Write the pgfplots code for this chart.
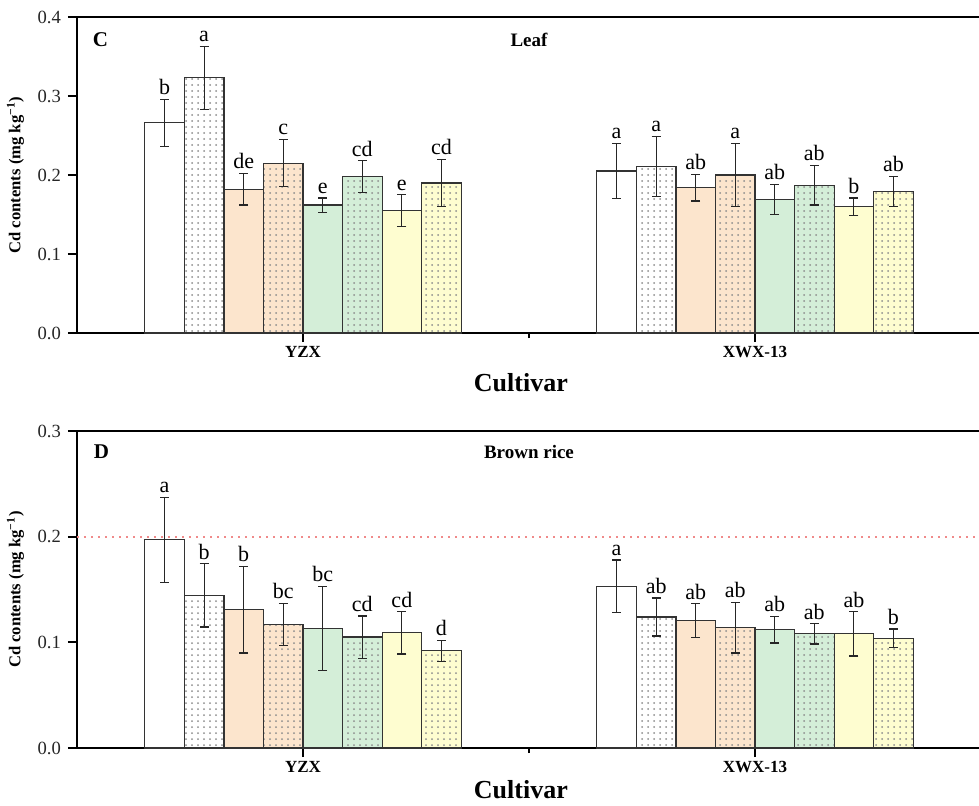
\documentclass[border=0pt]{standalone}
\usepackage{fontspec}
\setmainfont{Liberation Serif}
\usepackage{pgfplots}
\pgfplotsset{compat=1.18}
\usetikzlibrary{patterns}
\definecolor{cor}{HTML}{FCE5CD}
\definecolor{cgr}{HTML}{D4EED8}
\definecolor{cye}{HTML}{FEFDD0}
\definecolor{cred}{HTML}{F08A8A}
\pgfplotsset{
  panel/.style={scale only axis, width=452pt, xmin=0.5, xmax=2.5, ymin=0,
    axis y line*=left, xtick={1,2}, xticklabels={YZX,XWX-13}, minor xtick={1.5},
    xtick pos=bottom, ytick pos=left, tick align=outside,
    major tick length=4.5pt, minor tick length=2.5pt,
    axis line style={line width=1pt, black},
    every tick/.style={black, line width=0.9pt},
    x tick label style={font=\fontsize{8.5}{10}\selectfont\bfseries, yshift=1.5pt},
    y tick label style={font=\fontsize{9.3}{10}\selectfont, black!85},
    yticklabel style={/pgf/number format/.cd, fixed, fixed zerofill, precision=1, assume math mode=true},
    xlabel={Cultivar}, ylabel={Cd contents (mg kg\textsuperscript{−1})},
    xlabel style={font=\fontsize{13}{15}\selectfont\bfseries, at={(axis description cs:0.491,0)}, anchor=center, yshift=-25pt},
    ylabel style={font=\fontsize{8.3}{9}\selectfont\bfseries},
    clip=false},
  bar/.style={ybar, bar width=0.0875, bar shift=0pt, draw=black!80, line width=0.6pt,
    error bars/y dir=both, error bars/y explicit,
    error bars/error bar style={black!85, line width=0.6pt},
    error bars/error mark options={rotate=90, black!85, line width=0.6pt, mark size=2.2pt}},
  dot/.style={postaction={pattern=dots, pattern color=black!45}},
  lab/.style={forget plot, only marks, mark=*, mark size=0pt, mark options={draw=none, fill=none},
    nodes near coords, point meta=explicit symbolic,
    every node near coord/.style={anchor=south, inner sep=2pt, font=\fontsize{11}{12}\selectfont, black}},
}
\begin{document}
\begin{tikzpicture}
\useasboundingbox (0,0) rectangle (489.5pt,402.5pt);
% ---------------- Panel C: Leaf
\begin{axis}[panel, at={(38.5pt,236pt)}, anchor=south west, height=158pt,
  ymax=0.4, ytick={0,0.1,0.2,0.3,0.4}]
\addplot[bar, fill=white] coordinates {(0.69375,0.266) +- (0,0.030) (1.69375,0.205) +- (0,0.035)};
\addplot[bar, fill=white, dot] coordinates {(0.78125,0.323) +- (0,0.040) (1.78125,0.211) +- (0,0.038)};
\addplot[bar, fill=cor] coordinates {(0.86875,0.182) +- (0,0.020) (1.86875,0.184) +- (0,0.017)};
\addplot[bar, fill=cor, dot] coordinates {(0.95625,0.215) +- (0,0.030) (1.95625,0.200) +- (0,0.040)};
\addplot[bar, fill=cgr] coordinates {(1.04375,0.162) +- (0,0.009) (2.04375,0.169) +- (0,0.019)};
\addplot[bar, fill=cgr, dot] coordinates {(1.13125,0.198) +- (0,0.020) (2.13125,0.187) +- (0,0.025)};
\addplot[bar, fill=cye] coordinates {(1.21875,0.155) +- (0,0.020) (2.21875,0.160) +- (0,0.011)};
\addplot[bar, fill=cye, dot] coordinates {(1.30625,0.190) +- (0,0.030) (2.30625,0.179) +- (0,0.019)};
\addplot[lab] table[x=x, y=y, meta=lab] {
x y lab
0.69375 0.296 b
0.78125 0.363 a
0.86875 0.202 de
0.95625 0.245 c
1.04375 0.171 e
1.13125 0.218 cd
1.21875 0.175 e
1.30625 0.220 cd
1.69375 0.240 a
1.78125 0.249 a
1.86875 0.201 ab
1.95625 0.240 a
2.04375 0.188 ab
2.13125 0.212 ab
2.21875 0.171 b
2.30625 0.198 ab
};
\node[font=\fontsize{10.5}{12}\selectfont\bfseries] at (rel axis cs:0.026,0.927) {C};
\node[font=\fontsize{9.5}{11}\selectfont\bfseries] at (rel axis cs:0.5,0.927) {Leaf};
\end{axis}
% ---------------- Panel D: Brown rice
\begin{axis}[panel, at={(38.5pt,28.5pt)}, anchor=south west, height=158.5pt,
  ymax=0.3, ytick={0,0.1,0.2,0.3}, xlabel style={yshift=4pt}]
\addplot[cred, line width=1pt, dash pattern=on 1pt off 2.5pt, forget plot] coordinates {(0.5,0.2) (2.5,0.2)};
\addplot[bar, fill=white] coordinates {(0.69375,0.197) +- (0,0.040) (1.69375,0.153) +- (0,0.025)};
\addplot[bar, fill=white, dot] coordinates {(0.78125,0.1445) +- (0,0.030) (1.78125,0.124) +- (0,0.018)};
\addplot[bar, fill=cor] coordinates {(0.86875,0.131) +- (0,0.041) (1.86875,0.1205) +- (0,0.016)};
\addplot[bar, fill=cor, dot] coordinates {(0.95625,0.117) +- (0,0.020) (1.95625,0.114) +- (0,0.024)};
\addplot[bar, fill=cgr] coordinates {(1.04375,0.113) +- (0,0.040) (2.04375,0.112) +- (0,0.0126)};
\addplot[bar, fill=cgr, dot] coordinates {(1.13125,0.105) +- (0,0.020) (2.13125,0.108) +- (0,0.0095)};
\addplot[bar, fill=cye] coordinates {(1.21875,0.109) +- (0,0.020) (2.21875,0.108) +- (0,0.021)};
\addplot[bar, fill=cye, dot] coordinates {(1.30625,0.092) +- (0,0.010) (2.30625,0.104) +- (0,0.0087)};
\addplot[lab] table[x=x, y=y, meta=lab] {
x y lab
0.69375 0.237 a
0.78125 0.1745 b
0.86875 0.172 b
0.95625 0.137 bc
1.04375 0.153 bc
1.13125 0.125 cd
1.21875 0.129 cd
1.30625 0.102 d
1.69375 0.178 a
1.78125 0.142 ab
1.86875 0.1365 ab
1.95625 0.138 ab
2.04375 0.1246 ab
2.13125 0.1175 ab
2.21875 0.129 ab
2.30625 0.1127 b
};
\node[font=\fontsize{10.5}{12}\selectfont\bfseries] at (rel axis cs:0.027,0.934) {D};
\node[font=\fontsize{9.5}{11}\selectfont\bfseries] at (rel axis cs:0.5,0.934) {Brown rice};
\end{axis}
\end{tikzpicture}
\end{document}
